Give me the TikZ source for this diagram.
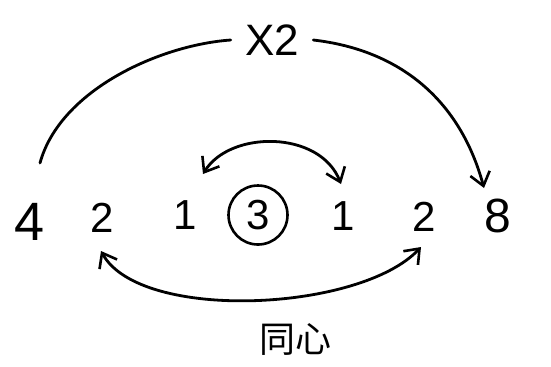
\documentclass[tikz,border=0pt]{standalone}
\usepackage{fontspec}
\setmainfont{Liberation Sans}
\newfontfamily\cjk{Noto Sans CJK SC}
\usetikzlibrary{arrows.meta}
\begin{document}
\begin{tikzpicture}[x=0.5pt,y=-0.5pt,
  num/.style={inner sep=1pt, font=\fontsize{27}{29}\selectfont},
  mid/.style={inner sep=1pt, font=\fontsize{24}{26}\selectfont},
  small/.style={inner sep=1pt, font=\fontsize{21}{23}\selectfont},
  lbl/.style={inner sep=1pt},
  arc/.style={line width=1.4pt, line cap=round},
  tip/.style={-{Straight Barb[length=6.5pt,width=10pt,line width=1.3pt]}},
  tips/.style={{Straight Barb[length=6.5pt,width=10pt,line width=1.3pt]}-{Straight Barb[length=6.5pt,width=10pt,line width=1.3pt]}}]
\useasboundingbox (0,0) rectangle (551,366);
\node[num] (n4) at (30,222) {4};
\node[small] (a2) at (102,218) {2};
\node[small] (a1) at (185,215) {1};
\node[small, draw, circle, line width=1.3pt, minimum size=29.5pt, inner sep=0pt] (c3) at (258,215) {3};
\node[small] (b1) at (343,216) {1};
\node[small] (b2) at (424,217) {2};
\node[mid] (n8) at (498,216) {8};
\node[lbl, font=\fontsize{22}{24}\selectfont] (x2) at (272,40) {X2};
\node[lbl, font=\cjk\fontsize{18}{20}\selectfont] (tx) at (295,339) {同心};
\coordinate (t4) at (40,163);
\coordinate (t8) at (484,188);
\coordinate (m1) at (203,174);
\coordinate (m2) at (341,184);
\coordinate (d1) at (101,251);
\coordinate (d2) at (421,247);
\draw[arc] (t4) .. controls (60,90) and (160,45) .. ([xshift=-6pt]x2.west);
\draw[arc, tip] ([xshift=6pt]x2.east) .. controls (400,50) and (460,100) .. (t8);
\draw[arc, tips] (m1) .. controls (230,130) and (320,130) .. (m2);
\draw[arc, tips] (d1) .. controls (140,322) and (360,312) .. (d2);
\end{tikzpicture}
\end{document}
